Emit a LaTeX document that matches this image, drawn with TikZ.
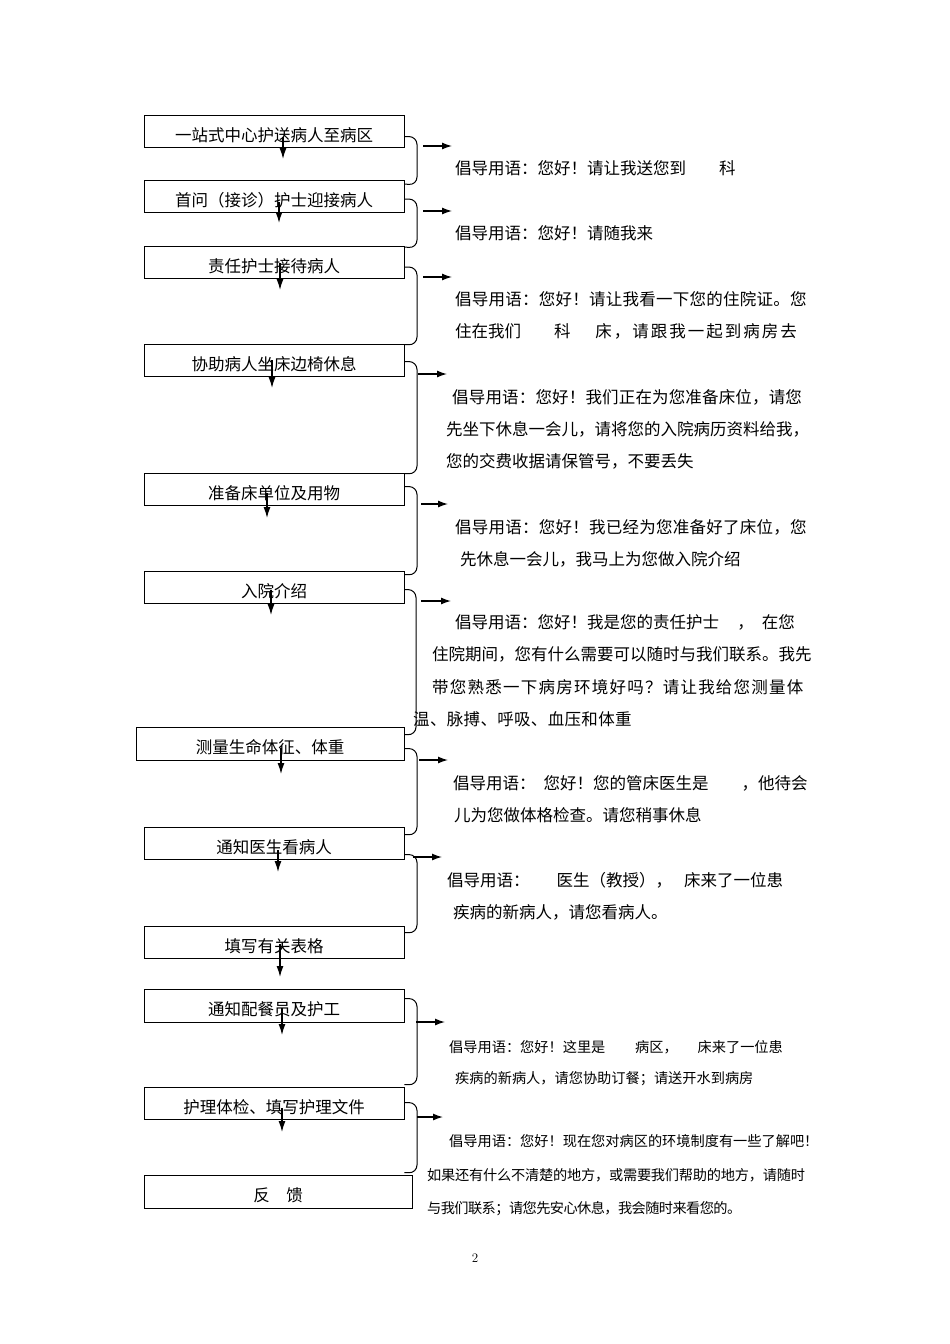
\documentclass[tikz,border=0pt]{standalone}
\usepackage{fontspec}
\newfontfamily\cjk{Noto Sans CJK SC}
\usetikzlibrary{arrows.meta}
\begin{document}
\begin{tikzpicture}[x=1pt,y=-1pt,
  box/.style={draw, line width=0.9pt, minimum width=260pt, minimum height=32pt, inner sep=0pt,
    text height=20.6pt, text depth=0pt, font=\cjk\fontsize{16.5}{16.5}\selectfont},
  say/.style={anchor=west, inner sep=0pt, text height=12.4pt, text depth=0pt,
    font=\cjk\fontsize{16.5}{16.5}\selectfont},
  says/.style={anchor=west, inner sep=0pt, text height=10.8pt, text depth=0pt,
    font=\cjk\fontsize{14.2}{14.2}\selectfont},
  darr/.style={line width=1.3pt, -{Latex[length=11pt,width=7pt]}},
  rarr/.style={line width=1.3pt, -{Latex[length=10pt,width=7pt]}},
  brc/.style={line width=1pt, rounded corners=8pt}]
\useasboundingbox[fill=white] (0,0) rectangle (950,1344);

% boxes
\node[box] (b1) at (274,131) {一站式中心护送病人至病区};
\node[box] (b2) at (274,196.5) {首问（接诊）护士迎接病人};
\node[box] (b3) at (274,262.5) {责任护士接待病人};
\node[box] (b4) at (274,360) {协助病人坐床边椅休息};
\node[box] (b5) at (274,489) {准备床单位及用物};
\node[box] (b6) at (274,587) {入院介绍};
\node[box, minimum width=268pt, minimum height=33pt] (b7) at (270,743.5) {测量生命体征、体重};
\node[box] (b8) at (274,843) {通知医生看病人};
\node[box] (b9) at (274,942) {填写有关表格};
\node[box, minimum height=33pt] (b10) at (274,1005.5) {通知配餐员及护工};
\node[box] (b11) at (274,1103) {护理体检、填写护理文件};
\node[box, minimum width=268pt, minimum height=33pt] (b12) at (278,1191.5) {反\hspace{1em}馈};

% down arrows
\draw[darr] ([xshift=9pt,yshift=-6pt]b1.center) -- ++(0,22);
\draw[darr] ([xshift=5pt,yshift=-5.5pt]b2.center) -- ++(0,21);
\draw[darr] ([xshift=6pt,yshift=-0.5pt]b3.center) -- ++(0,27);
\draw[darr] ([xshift=-2pt]b4.center) -- ++(0,28);
\draw[darr] ([xshift=-7pt,yshift=-4pt]b5.center) -- ++(0,25);
\draw[darr] ([xshift=-3pt,yshift=-3pt]b6.center) -- ++(0,25);
\draw[darr] ([xshift=11pt,yshift=-4.5pt]b7.center) -- ++(0,26);
\draw[darr] ([xshift=4pt,yshift=-7pt]b8.center) -- ++(0,22);
\draw[darr] ([xshift=6pt,yshift=-2pt]b9.center) -- ++(0,33);
\draw[darr] ([xshift=8pt,yshift=-2.5pt]b10.center) -- ++(0,27);
\draw[darr] ([xshift=8pt,yshift=-5pt]b11.center) -- ++(0,24);

% braces
\draw[brc] ([yshift=-22pt]b1.north east) -| (417,185) -- ([yshift=-4pt]b2.north east);
\draw[brc] ([yshift=-19pt]b2.north east) -| (417,248) -- ([yshift=-1pt]b3.north east);
\draw[brc] ([yshift=-21pt]b3.north east) -| (417,345) -- ([yshift=-1pt]b4.north east);
\draw[brc] ([yshift=-18pt]b4.north east) -| (417,474) -- ([yshift=-1pt]b5.north east);
\draw[brc] ([yshift=-14pt]b5.north east) -| (417,575) -- ([yshift=-4pt]b6.north east);
\draw[brc] ([yshift=-19pt]b6.north east) -| (416,735) -- ([yshift=-8pt]b7.north east);
\draw[brc] ([yshift=-22pt]b7.north east) -| (417,835) -- ([yshift=-8pt]b8.north east);
\draw[brc] ([yshift=-28pt]b8.north east) -| (417,933) -- ([yshift=-7pt]b9.north east);
\draw[brc] ([yshift=-10pt]b10.north east) -| (417,1085) -- ([yshift=2pt]b11.north east);
\draw[brc] ([yshift=-16pt]b11.north east) -| (417,1173) -- ([xshift=-8pt,yshift=2pt]b12.north east);

% right arrows
\coordinate (r1) at (423,146);
\coordinate (r2) at (423,211);
\coordinate (r3) at (423,277);
\coordinate (r4) at (418,374);
\coordinate (r5) at (421,504);
\coordinate (r6) at (421,601);
\coordinate (r7) at (419,760);
\coordinate (r8) at (413,857);
\coordinate (r10) at (416,1022);
\coordinate (r11) at (417,1117);
\draw[rarr] (r1) -- ++(29,0);
\draw[rarr] (r2) -- ++(29,0);
\draw[rarr] (r3) -- ++(29,0);
\draw[rarr] (r4) -- ++(29,0);
\draw[rarr] (r5) -- ++(27,0);
\draw[rarr] (r6) -- ++(30,0);
\draw[rarr] (r7) -- ++(29,0);
\draw[rarr] (r8) -- ++(29,0);
\draw[rarr] (r10) -- ++(29,0);
\draw[rarr] (r11) -- ++(26,0);

% phrases
\node[say] (t1) at (455,168) {倡导用语：您好！请让我送您到\hspace{2em}科};
\node[say] (t2) at (455,233) {倡导用语：您好！请随我来};
\node[say] (t3a) at (455,299) {\addfontfeature{LetterSpace=1.5}倡导用语：您好！请让我看一下您的住院证。您};
\node[say] (t3b) at (455,331) {住在我们\hspace{2em}科\hspace{1.5em}{\addfontfeature{LetterSpace=12}床，请跟我一起到病房去}};
\node[say] (t4a) at (452,397) {\addfontfeature{LetterSpace=1}倡导用语：您好！我们正在为您准备床位，请您};
\node[say] (t4b) at (446,429) {先坐下休息一会儿，请将您的入院病历资料给我，};
\node[say] (t4c) at (446,461) {您的交费收据请保管号，不要丢失};
\node[say] (t5a) at (455,527) {\addfontfeature{LetterSpace=1.5}倡导用语：您好！我已经为您准备好了床位，您};
\node[say] (t5b) at (460,559) {先休息一会儿，我马上为您做入院介绍};
\node[say] (t6a) at (455,622) {倡导用语：您好！我是您的责任护士\hspace{1.1em}，\hspace{8pt}在您};
\node[say] (t6b) at (432,654) {住院期间，您有什么需要可以随时与我们联系。我先};
\node[say] (t6c) at (432,687) {\addfontfeature{LetterSpace=7.5}带您熟悉一下病房环境好吗？请让我给您测量体};
\node[say] (t6d) at (413,719) {\addfontfeature{LetterSpace=2}温、脉搏、呼吸、血压和体重};
\node[say] (t7a) at (453,783) {倡导用语：\hspace{8pt}您好！您的管床医生是\hspace{2em}，他待会};
\node[say] (t7b) at (454,815) {儿为您做体格检查。请您稍事休息};
\node[say] (t8a) at (447,880) {倡导用语：\hspace{27pt}医生（教授），\hspace{12pt}床来了一位患};
\node[say] (t8b) at (453,912) {疾病的新病人，请您看病人。};
\node[says] (t10a) at (449,1047) {倡导用语：您好！这里是\hspace{2.1em}病区，\hspace{1.4em}床来了一位患};
\node[says] (t10b) at (455,1078) {疾病的新病人，请您协助订餐；请送开水到病房};
\node[says] (t11a) at (449,1141) {倡导用语：您好！现在您对病区的环境制度有一些了解吧！};
\node[says] (t11b) at (427,1175) {\addfontfeature{LetterSpace=-1.5}如果还有什么不清楚的地方，或需要我们帮助的地方，请随时};
\node[says] (t11c) at (427,1208) {\addfontfeature{LetterSpace=-4}与我们联系；请您先安心休息，我会随时来看您的。};

% page number
\node[inner sep=0pt, font=\fontsize{13}{13}\selectfont] (pg) at (475,1258) {2};
\end{tikzpicture}
\end{document}
